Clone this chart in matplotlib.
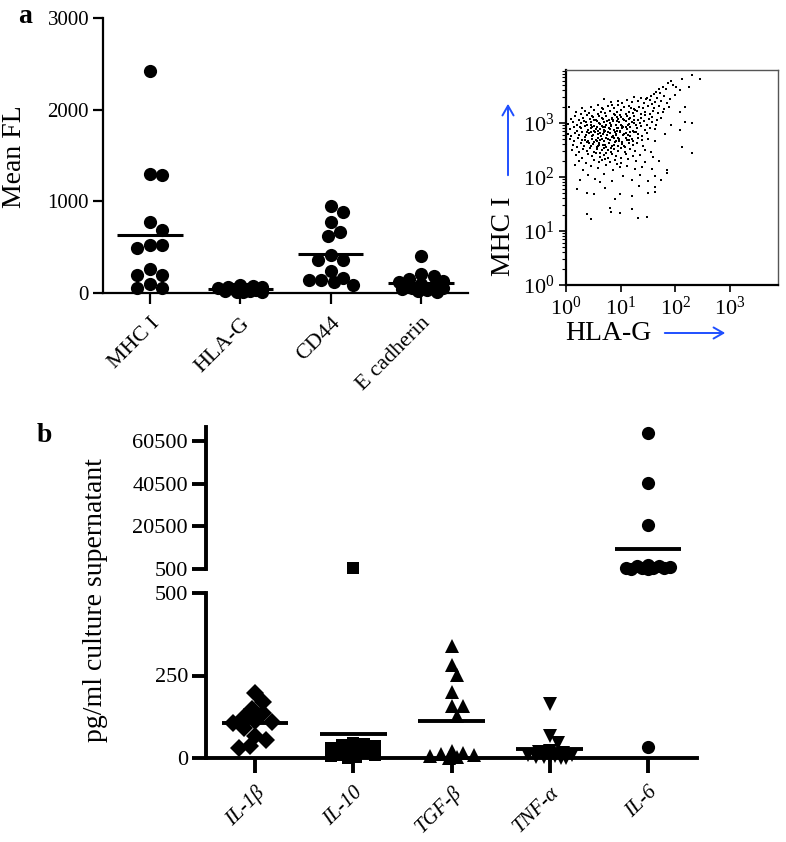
import matplotlib
matplotlib.use('Agg')
import matplotlib.pyplot as plt
import numpy as np

plt.rcParams['font.family'] = ['Liberation Serif', 'DejaVu Serif']
plt.rcParams['mathtext.fontset'] = 'stix'

# ---- panel a: mean fluorescence per marker
markers_a = ['MHC I', 'HLA-G', 'CD44', 'E cadherin']
mhc1 = [2420, 1300, 1290, 780, 690, 520, 520, 490, 262, 200, 196, 102, 55, 55]
hla_g = [85, 78, 70, 62, 55, 48, 42, 36, 30, 25, 20, 15, 12, 8]
cd44 = [950, 880, 780, 670, 625, 415, 360, 360, 240, 160, 140, 120, 140, 90]
e_cad = [400, 210, 190, 150, 130, 120, 100, 80, 60, 50, 40, 30, 20, 10]
yticks_a = [0, 1000, 2000, 3000]

# ---- flow cytometry events (log10 HLA-G, log10 MHC I)
flow_log = [
    (2.31, 3.89), (2.46, 3.81), (2.12, 3.81), (1.93, 3.78),
    (2.26, 3.67), (2.09, 3.61), (1.87, 3.74), (1.78, 3.67), (1.83, 3.63), (1.70, 3.62), (1.95, 3.70), (1.64, 3.58), (2.02, 3.66),
    (1.72, 3.55), (2.00, 3.52), (1.55, 3.49), (1.61, 3.53), (1.48, 3.47), (1.80, 3.50), (1.37, 3.46), (1.90, 3.45), (1.67, 3.46), (1.25, 3.48),
    (1.12, 3.42), (1.20, 3.38), (1.31, 3.41), (1.42, 3.37), (1.53, 3.42), (1.62, 3.39), (1.74, 3.40), (1.85, 3.36), (0.95, 3.40), (1.03, 3.36),
    (0.82, 3.38), (0.70, 3.44), (1.47, 3.44), (1.58, 3.35), (2.17, 3.30),
    (0.45, 3.30), (0.58, 3.33), (0.66, 3.28), (0.77, 3.31), (0.88, 3.27), (0.96, 3.33), (1.07, 3.29), (1.15, 3.32), (1.24, 3.26), (1.33, 3.30),
    (1.41, 3.27), (1.50, 3.31), (1.61, 3.28), (1.70, 3.32), (1.79, 3.26), (0.06, 3.30), (0.30, 3.28), (1.88, 3.29), (0.85, 3.34), (1.19, 3.28),
    (0.18, 3.20), (0.27, 3.16), (0.35, 3.22), (0.43, 3.18), (0.51, 3.24), (0.59, 3.17), (0.64, 3.21), (0.72, 3.19), (0.80, 3.23), (0.87, 3.16),
    (0.93, 3.20), (1.01, 3.24), (1.09, 3.17), (1.16, 3.21), (1.22, 3.18), (1.30, 3.23), (1.37, 3.16), (1.45, 3.20), (1.53, 3.17), (1.60, 3.22),
    (1.68, 3.18), (1.77, 3.21), (0.98, 3.15), (0.68, 3.25), (1.26, 3.24), (2.09, 3.20),
    (0.10, 3.08), (0.16, 3.12), (0.24, 3.06), (0.31, 3.10), (0.38, 3.14), (0.44, 3.07), (0.50, 3.11), (0.55, 3.05), (0.61, 3.13), (0.67, 3.08),
    (0.73, 3.12), (0.78, 3.06), (0.84, 3.10), (0.90, 3.14), (0.95, 3.07), (1.00, 3.11), (1.06, 3.05), (1.12, 3.13), (1.18, 3.09), (1.24, 3.12),
    (1.31, 3.06), (1.38, 3.10), (1.44, 3.14), (1.51, 3.08), (1.58, 3.11), (1.66, 3.06), (1.74, 3.10), (0.47, 3.13), (0.86, 3.06), (1.15, 3.07),
    (2.18, 3.02), (2.31, 2.99),
    (0.04, 2.98), (0.12, 3.02), (0.20, 2.96), (0.27, 3.00), (0.33, 3.04), (0.39, 2.97), (0.45, 3.01), (0.52, 2.95), (0.57, 3.03), (0.63, 2.98),
    (0.69, 3.02), (0.74, 2.96), (0.80, 3.00), (0.86, 3.04), (0.91, 2.97), (0.97, 3.01), (1.03, 2.95), (1.09, 3.03), (1.15, 2.98), (1.21, 3.02),
    (1.28, 2.96), (1.35, 3.00), (1.42, 3.04), (1.49, 2.97), (1.57, 3.01), (1.65, 2.96), (0.36, 3.01), (0.66, 2.95), (0.94, 3.04), (1.25, 2.99),
    (1.93, 2.97),
    (0.07, 2.88), (0.14, 2.92), (0.21, 2.86), (0.28, 2.90), (0.34, 2.94), (0.40, 2.87), (0.46, 2.91), (0.51, 2.85), (0.56, 2.93), (0.62, 2.88),
    (0.67, 2.92), (0.72, 2.86), (0.78, 2.90), (0.83, 2.94), (0.88, 2.87), (0.93, 2.91), (0.99, 2.85), (1.05, 2.93), (1.11, 2.88), (1.17, 2.92),
    (1.23, 2.86), (1.30, 2.90), (1.37, 2.94), (1.45, 2.87), (1.53, 2.91), (1.62, 2.89), (0.25, 2.93), (0.59, 2.86), (0.81, 2.89), (1.02, 2.90),
    (2.09, 2.87),
    (0.03, 2.80), (0.10, 2.76), (0.17, 2.82), (0.24, 2.78), (0.30, 2.84), (0.36, 2.77), (0.42, 2.81), (0.48, 2.75), (0.53, 2.83), (0.59, 2.79),
    (0.64, 2.76), (0.70, 2.84), (0.75, 2.78), (0.81, 2.82), (0.86, 2.76), (0.92, 2.80), (0.98, 2.84), (1.04, 2.77), (1.10, 2.81), (1.17, 2.75),
    (1.24, 2.83), (1.32, 2.79), (1.40, 2.76), (1.48, 2.82), (0.45, 2.84), (0.67, 2.80), (0.89, 2.83), (1.13, 2.78), (1.82, 2.80),
    (0.08, 2.70), (0.15, 2.66), (0.22, 2.72), (0.29, 2.68), (0.35, 2.74), (0.41, 2.67), (0.47, 2.71), (0.52, 2.65), (0.58, 2.73), (0.63, 2.69),
    (0.69, 2.66), (0.74, 2.72), (0.80, 2.68), (0.85, 2.74), (0.91, 2.67), (0.97, 2.71), (1.03, 2.65), (1.09, 2.73), (1.16, 2.69), (1.23, 2.66),
    (1.31, 2.72), (1.39, 2.68), (1.50, 2.70), (0.55, 2.69), (0.77, 2.70), (0.95, 2.73), (1.62, 2.66),
    (0.13, 2.60), (0.20, 2.56), (0.27, 2.62), (0.33, 2.58), (0.39, 2.64), (0.45, 2.57), (0.50, 2.61), (0.56, 2.55), (0.61, 2.63), (0.67, 2.59),
    (0.73, 2.56), (0.79, 2.62), (0.84, 2.58), (0.90, 2.64), (0.96, 2.57), (1.02, 2.61), (1.08, 2.55), (1.15, 2.63), (1.22, 2.59), (1.30, 2.62),
    (1.41, 2.58), (0.60, 2.60), (0.87, 2.60), (2.12, 2.56),
    (0.11, 2.50), (0.24, 2.46), (0.31, 2.52), (0.38, 2.48), (0.44, 2.54), (0.51, 2.47), (0.57, 2.51), (0.63, 2.45), (0.70, 2.53), (0.76, 2.49),
    (0.82, 2.46), (0.88, 2.52), (0.95, 2.48), (1.01, 2.54), (1.08, 2.47), (1.17, 2.51), (1.27, 2.48), (1.44, 2.50), (0.66, 2.50), (2.31, 2.45),
    (1.55, 2.46),
    (0.19, 2.40), (0.29, 2.36), (0.40, 2.42), (0.48, 2.38), (0.55, 2.44), (0.62, 2.37), (0.69, 2.41), (0.77, 2.35), (0.84, 2.43), (0.92, 2.39),
    (1.00, 2.36), (1.10, 2.42), (1.22, 2.38), (1.36, 2.41), (0.73, 2.44), (1.60, 2.37),
    (0.23, 2.30), (0.37, 2.26), (0.51, 2.32), (0.60, 2.28), (0.71, 2.34), (0.80, 2.27), (0.89, 2.31), (1.01, 2.26), (1.14, 2.33), (1.29, 2.29),
    (1.45, 2.27), (0.66, 2.31), (1.70, 2.30),
    (0.17, 2.22), (0.31, 2.13), (0.45, 2.20), (0.58, 2.16), (0.74, 2.22), (0.86, 2.12), (0.99, 2.18), (1.12, 2.21), (1.27, 2.14), (1.40, 2.19),
    (1.58, 2.15), (1.85, 2.12), (0.93, 2.24),
    (0.26, 1.94), (0.40, 2.03), (0.53, 1.97), (0.70, 2.06), (0.85, 1.92), (1.05, 2.01), (1.20, 1.95), (1.35, 2.04), (1.50, 1.93), (1.63, 2.02),
    (1.85, 2.08), (1.74, 1.95), (0.62, 1.91),
    (0.38, 1.71), (0.51, 1.69), (0.99, 1.68), (1.20, 1.64), (1.50, 1.70), (1.63, 1.73), (1.63, 1.81), (0.90, 1.60), (0.20, 1.78), (0.72, 1.80),
    (1.34, 1.83),
    (0.38, 1.31), (0.46, 1.22), (0.81, 1.43), (0.82, 1.35), (0.99, 1.34), (1.21, 1.41), (1.32, 1.24), (1.49, 1.25),
    (0.43, 2.63), (0.49, 2.78), (0.54, 2.89), (0.60, 2.99), (0.65, 2.71), (0.71, 2.93), (0.76, 2.83), (0.83, 2.97), (0.88, 2.72), (0.94, 2.86),
    (1.00, 2.96), (1.06, 2.80), (1.12, 2.68), (0.46, 2.96), (0.57, 2.67), (0.69, 2.87), (0.79, 2.63), (0.85, 3.07), (0.97, 2.66), (1.04, 3.08),
    (1.10, 2.92), (0.39, 2.84), (0.52, 3.06), (0.63, 2.81), (0.75, 3.04), (0.91, 2.78), (1.18, 2.84), (1.25, 3.06), (0.34, 2.69), (0.58, 2.57),
    (0.71, 2.60), (0.82, 2.53), (0.96, 2.90), (1.14, 2.97), (1.20, 2.71), (0.48, 2.92), (0.66, 3.09), (0.93, 3.11), (1.07, 2.58), (1.28, 2.83),
]

# ---- panel b: cytokines in culture supernatant (pg/ml)
cytokines = ['IL-1β', 'IL-10', 'TGF-β', 'TNF-α', 'IL-6']
il1b = [196, 169, 150, 135, 125, 112, 110, 106, 92, 68, 55, 37, 30]
il10 = [750, 45, 42, 38, 35, 30, 25, 20, 15, 10, 8, 5, 2, 0]
tgfb = [338, 282, 252, 201, 157, 157, 127, 20, 15, 12, 10, 6, 3, 0]
tnfa = [163, 68, 45, 22, 18, 14, 10, 8, 6, 4, 3, 2, 1, 0]
il6 = [64700, 41000, 21300, 2400, 2000, 1800, 1500, 1200, 1000, 900, 800, 700, 600, 33]
cyto_markers = ['D', 's', '^', 'v', 'o']
cyto_sizes = [9, 9, 10, 10, 9.5]
upper_ticks = [500, 20500, 40500, 60500]
lower_ticks = [0, 250, 500]
split = 500


def swarm(ax, xc, vals, diam, half_w):
    """beeswarm-like x offsets (data units) so markers don't pile up"""
    vals = np.asarray(vals, dtype=float)
    if len(vals) == 0:
        return np.array([])
    py = ax.transData.transform(np.column_stack([np.full(len(vals), xc), vals]))[:, 1]
    ux = ax.transData.transform([(xc + 1, 0)])[0, 0] - ax.transData.transform([(xc, 0)])[0, 0]
    step = diam / 4
    n = int(half_w * ux / step)
    cand = [0.0]
    for k in range(1, n + 1):
        cand += [k * step, -k * step]
    placed = []
    offs = np.zeros(len(vals))
    for i in np.argsort(-vals, kind='stable'):
        best, best_d = 0.0, -1
        for c in cand:
            d = min([np.hypot(c - px, py[i] - qy) for px, qy in placed], default=1e9)
            if d >= diam:
                best = c
                break
            if d > best_d + 0.5:
                best, best_d = c, d
        placed.append((best, py[i]))
        offs[i] = best / ux
    return offs


fig = plt.figure(figsize=(7.86, 8.42), dpi=100)

# ================= panel a
axa = fig.add_axes([103 / 786, 1 - 293 / 842, 365 / 786, 275 / 842])
axa.set_xlim(0.48, 4.52)
axa.set_ylim(0, 3000)
for i, vals in enumerate([mhc1, hla_g, cd44, e_cad]):
    xc = i + 1
    offs = swarm(axa, xc, vals, 12.5, 0.25)
    axa.plot(xc + offs, vals, 'o', color='black', ms=9.5, mew=0, clip_on=False, zorder=3)
    axa.hlines(np.mean(vals), xc - 0.36, xc + 0.36, color='black', lw=2.2, zorder=4)
for s in ['top', 'right']:
    axa.spines[s].set_visible(False)
for s in ['left', 'bottom']:
    axa.spines[s].set_linewidth(1.6)
axa.set_yticks(yticks_a)
axa.set_xticks(range(1, 5))
axa.set_xticklabels(markers_a, rotation=45, ha='right', va='top', rotation_mode='anchor', fontsize=16)
axa.tick_params(axis='y', labelsize=15, length=7, width=1.6, pad=3)
axa.tick_params(axis='x', length=8, width=1.6, pad=7)
fig.text(15 / 786, 1 - 157 / 842, 'Mean FL', rotation=90, ha='center', va='center', fontsize=20)
fig.text(18 / 786, 1 - 23 / 842, 'a', fontsize=20, fontweight='bold', va='baseline')

# ================= flow cytometry dot plot
axf = fig.add_axes([566 / 786, 1 - 285 / 842, 212 / 786, 215 / 842])
flow = np.array(flow_log)
axf.scatter(10 ** flow[:, 0], 10 ** flow[:, 1], s=4.0, c='black', marker='s', linewidths=0)
axf.set_xscale('log')
axf.set_yscale('log')
axf.set_xlim(1, 10 ** 3.88)
axf.set_ylim(1, 10 ** 3.98)
axf.set_xticks([1, 10, 100, 1000])
axf.set_yticks([1, 10, 100, 1000])
axf.tick_params(which='major', labelsize=16, length=5, width=1.2)
axf.tick_params(which='minor', length=3, width=0.8)
for s in ['left', 'bottom']:
    axf.spines[s].set_linewidth(1.6)
for s in ['top', 'right']:
    axf.spines[s].set_linewidth(1.0)
    axf.spines[s].set_color('#555555')
fig.text(504 / 786, 1 - 236 / 842, 'MHC I', rotation=90, ha='center', va='center', fontsize=20)
fig.text(608 / 786, 1 - 333 / 842, 'HLA-G', ha='center', va='center', fontsize=20)
blue = '#1f4fff'
fig.add_artist(matplotlib.patches.FancyArrowPatch(
    (508 / 786, 1 - 178 / 842), (508 / 786, 1 - 101 / 842), transform=fig.transFigure,
    arrowstyle='->,head_length=7,head_width=4', color=blue, lw=1.4))
fig.add_artist(matplotlib.patches.FancyArrowPatch(
    (662 / 786, 1 - 333 / 842), (728 / 786, 1 - 333 / 842), transform=fig.transFigure,
    arrowstyle='->,head_length=7,head_width=4', color=blue, lw=1.4))

# ================= panel b (broken y axis)
left_b, width_b = 206 / 786, 491 / 786
axu = fig.add_axes([left_b, 1 - 569 / 842, width_b, 142 / 842])
axl = fig.add_axes([left_b, 1 - 758 / 842, width_b, 165 / 842])
axu.set_ylim(split, 67300)
axl.set_ylim(0, split)
for ax in (axu, axl):
    ax.set_xlim(0.5, 5.5)
    for s in ['top', 'right']:
        ax.spines[s].set_visible(False)
    ax.spines['left'].set_linewidth(2.8)
    ax.spines['bottom'].set_linewidth(2.8)
    ax.tick_params(axis='y', labelsize=16, length=10, width=2.8, pad=3)
axu.spines['bottom'].set_visible(False)
axu.set_xticks([])
axu.set_yticks(upper_ticks)
axl.set_yticks(lower_ticks)
axl.set_xticks(range(1, 6))
axl.set_xticklabels(cytokines, rotation=45, ha='right', va='top', rotation_mode='anchor',
                    fontsize=15, style='italic')
axl.tick_params(axis='x', length=11, width=2.8, pad=7)

for i, vals in enumerate([il1b, il10, tgfb, tnfa, il6]):
    xc = i + 1
    vals = np.array(vals, dtype=float)
    for ax, sel in ((axl, vals <= split), (axu, vals > split)):
        v = vals[sel]
        if len(v) == 0:
            continue
        offs = swarm(ax, xc, v, 11.0, 0.25)
        ax.plot(xc + offs, v, cyto_markers[i], color='black', ms=cyto_sizes[i], mew=0,
                clip_on=False, zorder=3)
    m = vals.mean()
    ax = axu if m > split else axl
    ax.hlines(m, xc - 0.34, xc + 0.34, color='black', lw=2.8, zorder=4)

fig.text(96 / 786, 1 - 600 / 842, 'pg/ml culture supernatant', rotation=90, ha='center', va='center',
         fontsize=20)
fig.text(37 / 786, 1 - 442 / 842, 'b', fontsize=20, fontweight='bold', va='baseline')

fig.savefig('out.png', dpi=100)
